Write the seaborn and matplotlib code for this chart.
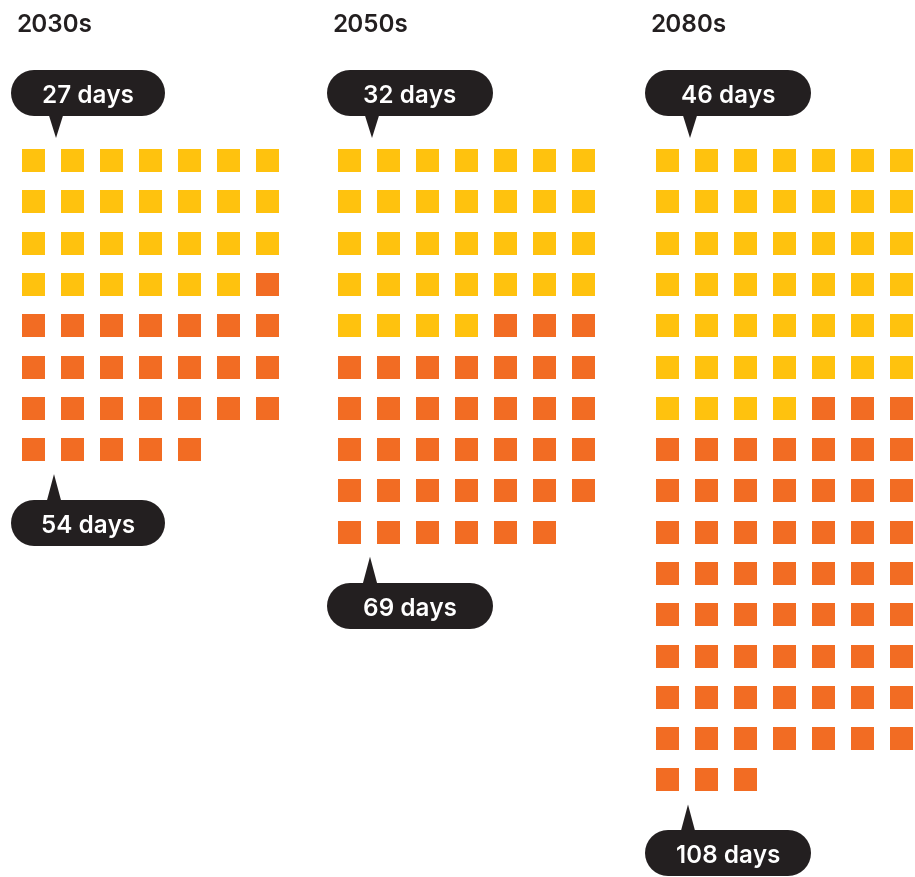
import pandas as pd
import matplotlib
matplotlib.use("Agg")
import matplotlib.pyplot as plt
from matplotlib.patches import Polygon
import seaborn as sns

# data: days above threshold per decade
decades = ["2030s", "2050s", "2080s"]
early_days = [27, 32, 46]      # first (yellow) part
total_days = [54, 69, 108]     # full count
per_row = 7

YELLOW = "#FFC20E"
ORANGE = "#F26C23"
DARK = "#231F20"

# layout in pixels (figure is 915x878 @ 100dpi)
group_left = [22, 338, 656]
bubble_w = [154, 166, 166]
col_step = 39.0
row_step = 41.3
cell = 23
grid_top = 150
FONT = ["Inter", "DejaVu Sans"]


def build_cells():
    rows = []
    for g, dec in enumerate(decades):
        for i in range(total_days[g]):
            rows.append({
                "decade": dec,
                "x": group_left[g] + (i % per_row) * col_step + cell / 2,
                "y": grid_top + (i // per_row) * row_step + cell / 2,
                "kind": "early" if i < early_days[g] else "late",
            })
    return pd.DataFrame(rows)


def callout(ax, left, top, width, tip_x, tip_y, label, pointer_up):
    h = 46
    r = h / 2
    # stadium shape = thick line with round caps
    ax.plot([left + r, left + width - r], [top + r, top + r], color=DARK,
            lw=h * 72 / 100, solid_capstyle="round", zorder=3)
    base_y = top + 2 if pointer_up else top + h - 2
    tri = Polygon([(tip_x - 7.5, base_y), (tip_x + 7.5, base_y), (tip_x, tip_y)],
                  closed=True, fc=DARK, ec="none", zorder=3)
    ax.add_patch(tri)
    ax.text(left + width / 2, top + 32, label, color="white", fontsize=17.5,
            fontweight="semibold", family=FONT, ha="center", va="baseline", zorder=4)


def main():
    sns.set_theme(style="white")
    plt.rcParams["font.family"] = FONT

    df = build_cells()

    fig = plt.figure(figsize=(9.15, 8.78), dpi=100)
    ax = fig.add_axes([0, 0, 1, 1])
    side_pt = cell * 72 / 100
    sns.scatterplot(data=df, x="x", y="y", hue="kind", marker="s",
                    palette={"early": YELLOW, "late": ORANGE},
                    s=side_pt ** 2, linewidth=0, legend=False, ax=ax)
    ax.set_xlim(0, 915)
    ax.set_ylim(878, 0)
    ax.set_axis_off()

    for g, dec in enumerate(decades):
        gl = group_left[g]
        ax.text(gl - 5, 32, dec, fontsize=17.5, fontweight="semibold", color=DARK,
                family=FONT, ha="left", va="baseline")
        # top callout: first chunk
        callout(ax, gl - 11, 71, bubble_w[g], gl + 34, 139,
                f"{early_days[g]} days", pointer_up=False)
        # bottom callout: total
        last_row = (total_days[g] - 1) // per_row
        bottom = grid_top + last_row * row_step + cell
        callout(ax, gl - 11, bottom + 39, bubble_w[g], gl + 32, bottom + 13,
                f"{total_days[g]} days", pointer_up=True)

    fig.savefig("out.png", dpi=100)


if __name__ == "__main__":
    main()
